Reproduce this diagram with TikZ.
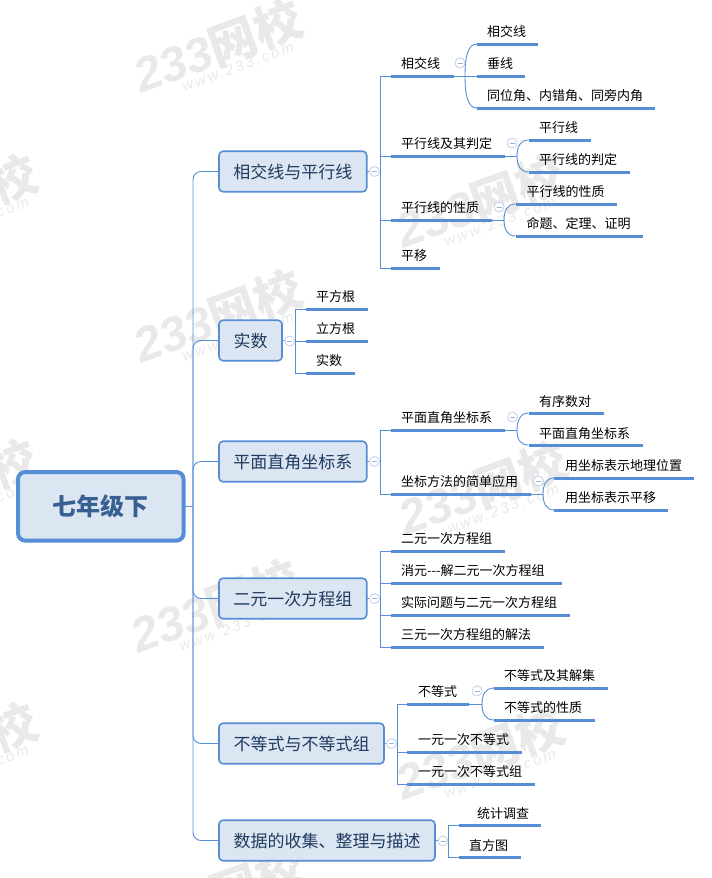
\documentclass[tikz,border=0pt]{standalone}
\usepackage{fontspec}
\setmainfont{Noto Sans CJK SC}
\newfontfamily\wmfont{Liberation Sans}
\newfontfamily\wwfont[LetterSpace=16]{Liberation Sans}
\newcommand{\minusbar}{\rule{5pt}{.7pt}}
\definecolor{linec}{HTML}{558ED5}
\definecolor{boxc}{HTML}{DCE6F2}
\definecolor{rootc}{HTML}{376092}
\definecolor{topicc}{HTML}{1F3B60}
\definecolor{markc}{HTML}{E9E9E9}
\definecolor{iconc}{HTML}{BFD0EC}
\definecolor{iconm}{HTML}{9FB0CC}
\tikzset{
  rootbox/.style={draw=linec,line width=4pt,fill=boxc,rounded corners=7pt,outer sep=0pt,
    minimum width=165.5pt,minimum height=68.5pt,text=rootc,font=\fontsize{24}{24}\selectfont\bfseries},
  topicbox/.style={draw=linec,line width=1.6pt,fill=boxc,rounded corners=4pt,anchor=west,outer sep=0pt,
    minimum height=40.5pt,inner sep=0pt,text height=15pt,text depth=1pt,text=topicc,font=\fontsize{17}{17}\selectfont},
  txt/.style={anchor=west,inner sep=0pt,yshift=-1pt,font=\fontsize{13}{13}\selectfont},
  bar/.style={fill=linec,anchor=west,inner sep=0pt,outer sep=0pt,minimum height=3pt,minimum width=#1},
  icon/.style={circle,draw=iconc,fill=white,line width=.8pt,minimum size=10pt,inner sep=0pt,text=iconm},
  link/.style={draw=linec,line width=.9pt},
  wmark/.style={rotate=20,text=markc,align=center,inner sep=0pt}
}
\begin{document}
\begin{tikzpicture}[x=1pt,y=-1pt]
  \useasboundingbox (0,0) rectangle (712,878);
  \clip (0,0) rectangle (712,878);
  % watermarks
  \foreach \wx/\wy/\wn in {219/50/w1,-46/205/w2,219/320/w3,481/205/w4,-46/490/w5,484/492/w6,216/610/w7,-46/753/w8,481/757/w9,221/897/w10}
    \node[wmark] (\wn) at (\wx,\wy) {\fontsize{48}{48}\selectfont{\wmfont\bfseries\itshape 233}\bfseries 网校\\[-3pt]\hspace*{24pt}\fontsize{15}{15}\selectfont\wwfont\itshape www.233.com};
  % root and trunk
  \node[rootbox] (root) at (100.8,506.3) {七年级下};
  \coordinate (trunk) at (193,506.3);
  % topics
  \node[topicbox,minimum width=147.7pt] (a) at (219,171.5) {相交线与平行线};
  \node[topicbox,minimum width=63pt] (b) at (219,340.5) {实数};
  \node[topicbox,minimum width=147.7pt] (c) at (219,461.5) {平面直角坐标系};
  \node[topicbox,minimum width=147.7pt] (d) at (219,598.5) {二元一次方程组};
  \node[topicbox,minimum width=165pt] (e) at (219,743.5) {不等式与不等式组};
  \node[topicbox,minimum width=216pt] (f) at (219,840.5) {数据的收集、整理与描述};
  % branch points
  \coordinate (ca) at (380,171.5);
  \coordinate (cb) at (295.3,340.5);
  \coordinate (cc) at (380,461.5);
  \coordinate (cd) at (380,598.5);
  \coordinate (ce) at (397,743.5);
  \coordinate (cf) at (448,840.5);
  % second level
  \node[bar=63pt] (a1) at (390.5,76) {};
  \node[bar=114pt] (a2) at (390.5,156) {};
  \node[bar=101pt] (a3) at (390.5,220) {};
  \node[bar=49pt] (a4) at (390.5,268) {};
  \node[bar=62pt] (b1) at (305.5,309) {};
  \node[bar=62pt] (b2) at (305.5,341) {};
  \node[bar=49pt] (b3) at (305.5,373) {};
  \node[bar=114pt] (c1) at (390.5,430) {};
  \node[bar=140pt] (c2) at (390.5,494) {};
  \node[bar=114pt] (d1) at (390.5,551) {};
  \node[bar=171pt] (d2) at (390.5,583) {};
  \node[bar=179pt] (d3) at (390.5,615) {};
  \node[bar=153pt] (d4) at (390.5,647) {};
  \node[bar=62pt] (e1) at (407,704) {};
  \node[bar=115pt] (e2) at (407,752) {};
  \node[bar=128pt] (e3) at (407,784) {};
  \node[bar=82pt] (f1) at (459,825) {};
  \node[bar=62pt] (f2) at (459,857) {};
  % third level
  \node[bar=61pt] (a11) at (477,44) {};
  \node[bar=48pt] (a12) at (477,76) {};
  \node[bar=178pt] (a13) at (477,108) {};
  \node[bar=62pt] (a21) at (528.5,140) {};
  \node[bar=101pt] (a22) at (528.5,172) {};
  \node[bar=101pt] (a31) at (515.5,204) {};
  \node[bar=127pt] (a32) at (515.5,236) {};
  \node[bar=75pt] (c11) at (528.5,413) {};
  \node[bar=114pt] (c12) at (528.5,445) {};
  \node[bar=140pt] (c21) at (554,478) {};
  \node[bar=114pt] (c22) at (554,510) {};
  \node[bar=114pt] (e11) at (494,688) {};
  \node[bar=101pt] (e12) at (494,720) {};
  % labels
  \draw
    (401,62.5) node[txt] (ta1){相交线}
    (401,143) node[txt] (ta2){平行线及其判定}
    (401,207) node[txt] (ta3){平行线的性质}
    (401,255) node[txt] (ta4){平移}
    (487,31) node[txt] (ta11){相交线}
    (487,63) node[txt] (ta12){垂线}
    (487,95) node[txt] (ta13){同位角、内错角、同旁内角}
    (539,127) node[txt] (ta21){平行线}
    (539,159) node[txt] (ta22){平行线的判定}
    (526.5,191) node[txt] (ta31){平行线的性质}
    (526.5,223) node[txt] (ta32){命题、定理、证明}
    (316,296) node[txt] (tb1){平方根}
    (316,328) node[txt] (tb2){立方根}
    (316,360) node[txt] (tb3){实数}
    (401,417) node[txt] (tc1){平面直角坐标系}
    (401,481) node[txt] (tc2){坐标方法的简单应用}
    (539,401) node[txt] (tc11){有序数对}
    (539,433) node[txt] (tc12){平面直角坐标系}
    (565,465) node[txt] (tc21){用坐标表示地理位置}
    (565,497) node[txt] (tc22){用坐标表示平移}
    (401,538) node[txt] (td1){二元一次方程组}
    (401,570) node[txt] (td2){消元{-}{-}{-}解二元一次方程组}
    (401,602) node[txt] (td3){实际问题与二元一次方程组}
    (401,634) node[txt] (td4){三元一次方程组的解法}
    (418,691) node[txt] (te1){不等式}
    (418,739) node[txt] (te2){一元一次不等式}
    (418,771) node[txt] (te3){一元一次不等式组}
    (504,675) node[txt] (te11){不等式及其解集}
    (504,707) node[txt] (te12){不等式的性质}
    (477,813) node[txt] (tf1){统计调查}
    (469,845) node[txt] (tf2){直方图};
  % connectors
  \begin{scope}[link]
    \draw (root.east) to (trunk);
    \begin{scope}[rounded corners=8pt]
      \draw (trunk) |- (a.west);
      \draw (trunk) |- (b.west);
      \draw (trunk) |- (c.west);
      \draw (trunk) |- (d.west);
      \draw (trunk) |- (e.west);
      \draw (trunk) |- (f.west);
    \end{scope}
    \draw (a.east) to (ca);
    \draw (b.east) to (cb);
    \draw (c.east) to (cc);
    \draw (d.east) to (cd);
    \draw (e.east) to (ce);
    \draw (f.east) to (cf);
    \draw (ca) |- (a1.west);
    \draw (ca) |- (a2.west);
    \draw (ca) |- (a3.west);
    \draw (ca) |- (a4.west);
    \draw (cb) |- (b1.west);
    \draw (cb) |- (b2.west);
    \draw (cb) |- (b3.west);
    \draw (cc) |- (c1.west);
    \draw (cc) |- (c2.west);
    \draw (cd) |- (d1.west);
    \draw (cd) |- (d2.west);
    \draw (cd) |- (d3.west);
    \draw (cd) |- (d4.west);
    \draw (ce) |- (e1.west);
    \draw (ce) |- (e2.west);
    \draw (ce) |- (e3.west);
    \draw (cf) |- (f1.west);
    \draw (cf) |- (f2.west);
    \draw (a1.east) to (a12.west);
    \draw (a2.east) to (517,156);
    \draw (a3.east) to (504,220);
    \draw (c1.east) to (517,430);
    \draw (c2.east) to (543,494);
    \draw (e1.east) to (482,704);
    \draw (465,76) .. controls (465,56) and (468,44) .. (a11.west);
    \draw (465,76) .. controls (465,96) and (468,108) .. (a13.west);
    \draw (517,156) .. controls (517,147) and (520,140) .. (a21.west);
    \draw (517,156) .. controls (517,165) and (520,172) .. (a22.west);
    \draw (504,220) .. controls (504,211) and (507,204) .. (a31.west);
    \draw (504,220) .. controls (504,229) and (507,236) .. (a32.west);
    \draw (517,430) .. controls (517,421) and (520,413) .. (c11.west);
    \draw (517,430) .. controls (517,439) and (520,445) .. (c12.west);
    \draw (543,494) .. controls (543,485) and (546,478) .. (c21.west);
    \draw (543,494) .. controls (543,503) and (546,510) .. (c22.west);
    \draw (482,704) .. controls (482,695) and (485,688) .. (e11.west);
    \draw (482,704) .. controls (482,713) and (485,720) .. (e12.west);
  \end{scope}
  % collapse icons
  \node[icon] (ia) at (374.5,171.5) {\minusbar};
  \node[icon] (ib) at (289.7,341) {\minusbar};
  \node[icon] (ic) at (374.5,461.5) {\minusbar};
  \node[icon] (id) at (374.5,598.5) {\minusbar};
  \node[icon] (ie) at (391.5,743.5) {\minusbar};
  \node[icon] (if) at (443,841) {\minusbar};
  \node[icon] (ia1) at (460,63) {\minusbar};
  \node[icon] (ia2) at (512,143) {\minusbar};
  \node[icon] (ia3) at (499,207) {\minusbar};
  \node[icon] (ic1) at (512.5,417) {\minusbar};
  \node[icon] (ic2) at (538.5,481) {\minusbar};
  \node[icon] (ie1) at (477,691) {\minusbar};
\end{tikzpicture}
\end{document}
